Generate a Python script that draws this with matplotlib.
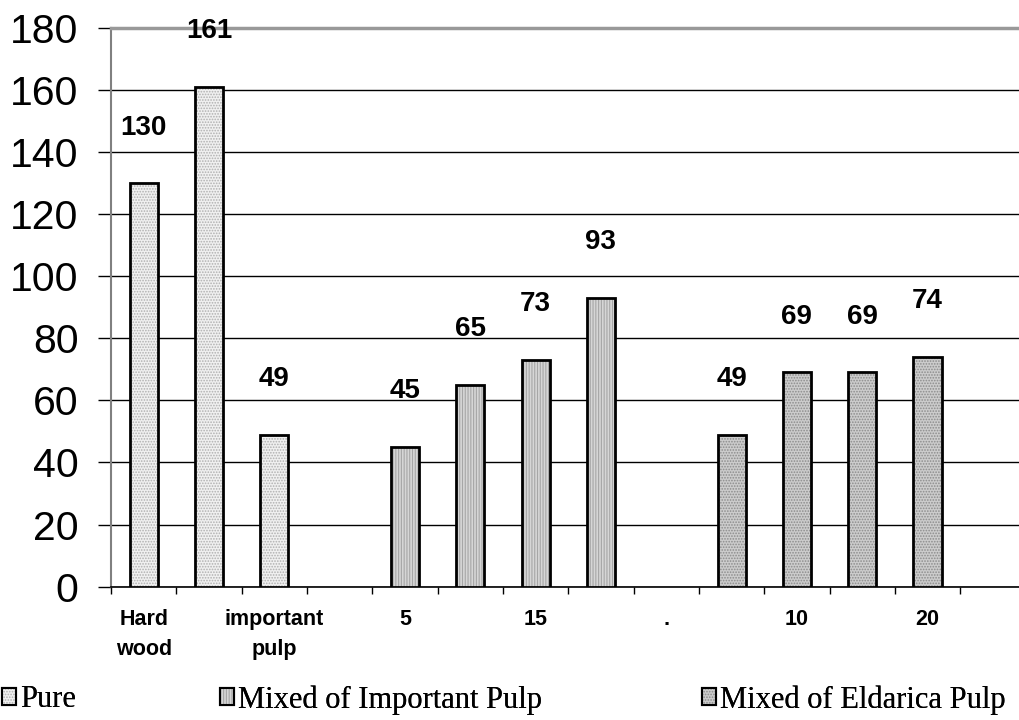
import matplotlib.pyplot as plt
import numpy as np
from matplotlib.legend_handler import HandlerTuple
from matplotlib.patches import Patch

# data
slot_labels = ["Hard\nwood", "", "important\npulp", "", "5", "", "15", "",
               ".", "", "10", "", "20", ""]
series_names = ["Pure", "Mixed of Important Pulp", "Mixed of Eldarica Pulp"]
pure_values = [130, 161, 49]
important_values = [45, 65, 73, 93]
eldarica_values = [49, 69, 69, 74]
y_ticks = [0, 20, 40, 60, 80, 100, 120, 140, 160, 180]

# each series starts at its own slot, one empty slot between groups
group_start = [0, 4, 9]
series_values = [pure_values, important_values, eldarica_values]

face_colors = ["#f0f0f0", "#d6d6d6", "#cccccc"]
hatch_colors = ["#b0b0b0", "#a6a6a6", "#8c8c8c"]
hatches = ["......", "||||||", "......"]

# left edge of each legend entry, as a fraction of the figure width
legend_left = [0.002, 0.216, 0.689]

plt.rcParams["font.family"] = ["Liberation Sans", "DejaVu Sans"]
plt.rcParams["hatch.linewidth"] = 0.8

fig = plt.figure(figsize=(10.19, 7.2), dpi=100)
ax = fig.add_axes([0.1089, 0.1852, 0.8975, 0.776])

bar_width = 0.43
handles = []
for start, values, fc, hc, hatch in zip(group_start, series_values,
                                        face_colors, hatch_colors, hatches):
    x = start + np.arange(len(values))
    # hatched fill first, black outline on top
    ax.bar(x, values, width=bar_width, color=fc, edgecolor=hc,
           hatch=hatch, linewidth=0, zorder=3)
    ax.bar(x, values, width=bar_width, fill=False, edgecolor="black",
           linewidth=2, zorder=4)
    for xi, v in zip(x, values):
        ax.annotate(str(v), (xi, v), xytext=(0, 35), textcoords="offset points",
                    ha="center", va="baseline", fontsize=20,
                    fontweight="bold")
    fill_patch = Patch(facecolor=fc, edgecolor=hc, hatch=hatch, linewidth=0)
    edge_patch = Patch(fill=False, edgecolor="black", linewidth=1.5)
    handles.append((fill_patch, edge_patch))

ax.set_xlim(-0.5, len(slot_labels) - 0.5)
ax.set_ylim(0, 180)

ax.set_yticks(y_ticks)
ax.tick_params(axis="y", length=9.4, width=1, pad=14, labelsize=29.5,
               direction="out")
ax.yaxis.grid(True, color="black", linewidth=1, zorder=0)
ax.set_axisbelow(True)

ax.set_xticks(np.arange(len(slot_labels)))
ax.set_xticklabels(slot_labels, fontsize=15.5, fontweight="bold",
                   linespacing=1.55)
ax.tick_params(axis="x", which="major", length=0, pad=16)
ax.set_xticks(np.arange(len(slot_labels) + 1) - 0.5, minor=True)
ax.tick_params(axis="x", which="minor", length=5, width=1, direction="out")

ax.spines["left"].set_color("#808080")
ax.spines["left"].set_linewidth(1.5)
ax.spines["top"].set_color("#999999")
ax.spines["top"].set_linewidth(2.5)
ax.spines["right"].set_visible(False)
ax.spines["bottom"].set_linewidth(1.2)

# one small legend per entry, spaced like the reference
for handle, name, left in zip(handles, series_names, legend_left):
    leg = fig.legend([handle], [name], loc="center left",
                     bbox_to_anchor=(left, 0.028), frameon=False,
                     borderpad=0, borderaxespad=0, handlelength=0.45,
                     handleheight=0.45, handletextpad=0.15,
                     prop={"family": "Liberation Serif", "size": 22},
                     handler_map={tuple: HandlerTuple(ndivide=1)})
    fig.add_artist(leg)

fig.savefig("out.png", dpi=100)
